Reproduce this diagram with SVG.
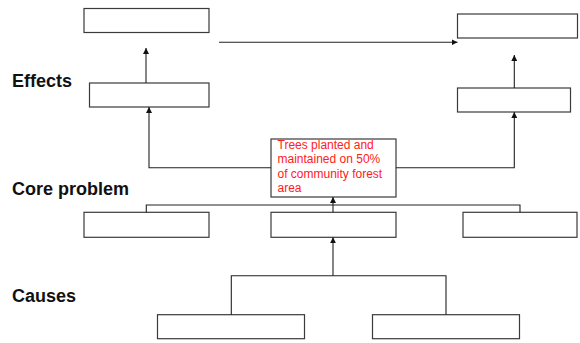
<svg xmlns="http://www.w3.org/2000/svg" width="580" height="343" viewBox="0 0 580 343">
  <style>
    .box { fill: #ffffff; stroke: #3a3a3a; stroke-width: 1.2; }
    .lane { font-family: "Liberation Sans", Arial, sans-serif; font-weight: bold; font-size: 18px; fill: #111111; }
    .core { font-family: "Liberation Sans", Arial, sans-serif; font-size: 12px; fill: #ff2020; }
    .link { fill: none; stroke: #222222; stroke-width: 1.1; }
    .arrow { marker-end: url(#head); }
  </style>
  <defs>
    <marker id="head" viewBox="0 0 10 10" refX="10" refY="5" markerWidth="6" markerHeight="6" markerUnits="userSpaceOnUse" orient="auto">
      <path d="M0,0 L10,5 L0,10 Z" fill="#111111"/>
    </marker>
  </defs>
  <rect width="580" height="343" fill="#ffffff"/>

  <!-- lane labels -->
  <g id="labels">
    <text class="lane" x="12" y="87">Effects</text>
    <text class="lane" x="12" y="195">Core problem</text>
    <text class="lane" x="12" y="302">Causes</text>
  </g>

  <!-- effects -->
  <g id="effect-top-left"><rect class="box" x="84" y="8.5" width="125" height="24"/></g>
  <g id="effect-top-right"><rect class="box" x="457.5" y="14" width="120" height="24"/></g>
  <g id="effect-left"><rect class="box" x="89.5" y="83" width="119.5" height="24"/></g>
  <g id="effect-right"><rect class="box" x="457.5" y="88" width="113" height="24"/></g>

  <!-- core problem -->
  <g id="core">
    <rect class="box" x="271" y="139" width="125" height="58"/>
    <text class="core" x="277.5" y="149">Trees planted and</text>
    <text class="core" x="277.5" y="163.3">maintained on 50%</text>
    <text class="core" x="277.5" y="177.7">of community forest</text>
    <text class="core" x="277.5" y="192">area</text>
  </g>

  <!-- row under the core problem -->
  <g id="sub-left"><rect class="box" x="84" y="212.3" width="125" height="25"/></g>
  <g id="sub-middle"><rect class="box" x="271" y="212.3" width="125" height="25"/></g>
  <g id="sub-right"><rect class="box" x="463" y="212.3" width="114" height="25"/></g>

  <!-- causes -->
  <g id="cause-left"><rect class="box" x="157.5" y="314.7" width="147" height="24"/></g>
  <g id="cause-right"><rect class="box" x="372.5" y="314.7" width="147" height="24"/></g>

  <g id="connectors">
    <line class="link arrow" x1="146" y1="83" x2="146" y2="48"/>
    <line class="link arrow" x1="219" y1="42.3" x2="457.5" y2="42.3"/>
    <line class="link arrow" x1="514.3" y1="88" x2="514.3" y2="55"/>
    <polyline class="link arrow" points="271,167.7 149,167.7 149,107"/>
    <polyline class="link arrow" points="396,167.7 514.3,167.7 514.3,112"/>
    <polyline class="link" points="146.3,212.3 146.3,205 520,205 520,212.3"/>
    <line class="link arrow" x1="333" y1="212.3" x2="333" y2="197"/>
    <polyline class="link" points="231.3,314.7 231.3,275.7 446,275.7 446,314.7"/>
    <line class="link arrow" x1="333" y1="275.7" x2="333" y2="237.3"/>
  </g>
</svg>
